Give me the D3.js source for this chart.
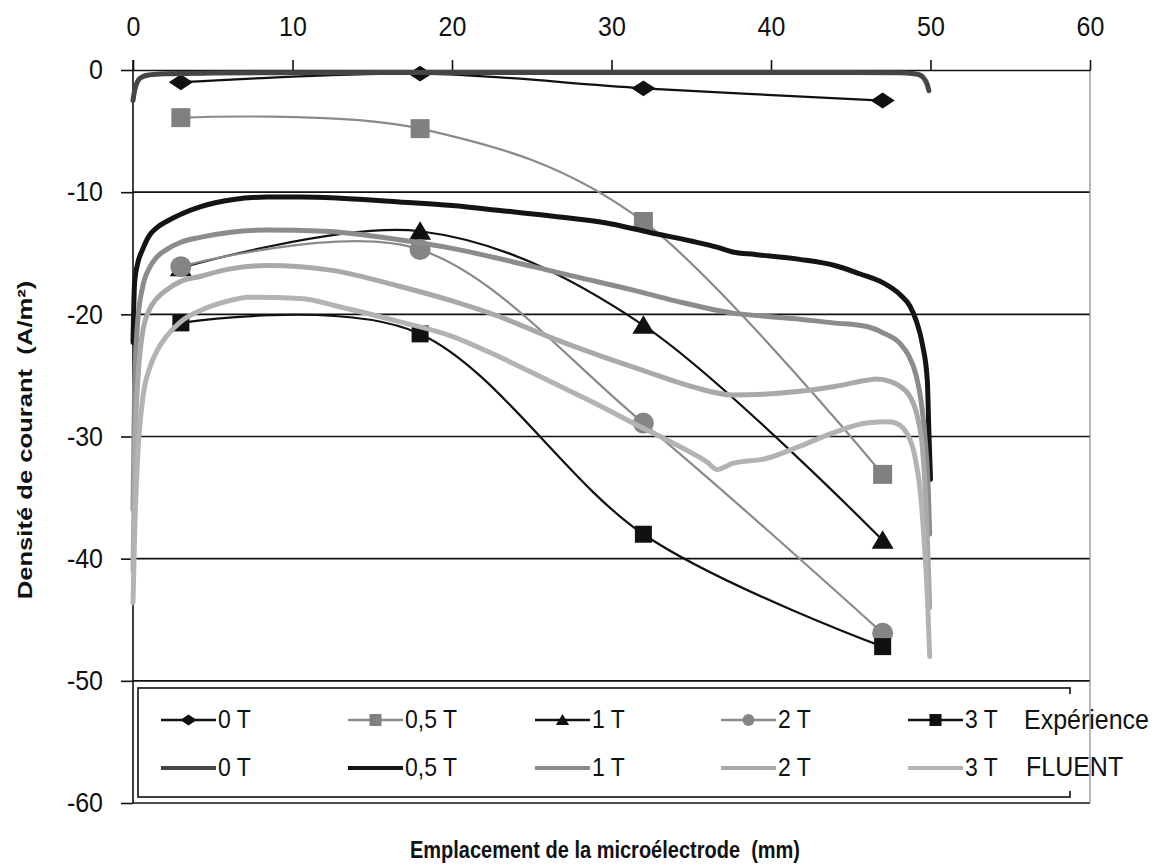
<!DOCTYPE html>
<html><head><meta charset="utf-8">
<script src="https://cdn.jsdelivr.net/npm/d3@7"></script>
<style>body{margin:0;background:#fff} text{font-family:"Liberation Sans",Arial,sans-serif}</style>
</head><body><svg id="c" width="1166" height="865"></svg>
<script>
// ---------- DATA ----------
const xTicks = [0, 10, 20, 30, 40, 50, 60];
const yTicks = [0, -10, -20, -30, -40, -50, -60];
const legendLabels = ["0 T", "0,5 T", "1 T", "2 T", "3 T"];

// Experimental points (position in mm)
const expX = [3, 18, 32, 47];
const exp0T = [-1.0, -0.3, -1.5, -2.5];
const exp05T = [-3.9, -4.8, -12.4, -33.1];
const exp1T = [-16.2, -13.2, -20.9, -38.5];
const exp2T = [-16.1, -14.7, -28.9, -46.1];
const exp3T = [-20.7, -21.6, -38.0, -47.2];

// FLUENT simulation curves
const fl0T_x = [0, 0.1, 0.2, 0.35, 0.6, 1, 2, 5, 10, 20, 30, 40, 45, 48, 49, 49.4, 49.65, 49.8, 49.9];
const fl0T_y = [-2.5, -1.7, -1.2, -0.8, -0.55, -0.4, -0.3, -0.25, -0.22, -0.2, -0.2, -0.2, -0.2, -0.22, -0.3, -0.45, -0.8, -1.2, -1.7];

const fl05T_x = [0, 0.1, 0.3, 0.6, 1, 1.5, 2.1, 3, 4.2, 6.3, 8.4, 10.5, 13, 16.7, 20, 23, 27.2, 30, 32.4, 35, 36.6, 37.6, 39, 41.8, 44, 45.6, 47, 48.1, 48.7, 49.1, 49.5, 49.8, 49.9, 50];
const fl05T_y = [-22.3, -17.4, -15.8, -14.7, -13.6, -12.9, -12.4, -11.8, -11.2, -10.6, -10.4, -10.4, -10.5, -10.8, -11.1, -11.5, -12.1, -12.6, -13.3, -14.0, -14.5, -14.9, -15.1, -15.5, -16.0, -16.7, -17.4, -18.4, -19.3, -20.5, -22.5, -25.4, -29.7, -33.5];

const fl1T_x = [0, 0.1, 0.3, 0.6, 1.07, 1.5, 2.1, 3, 4.2, 6, 8.4, 12, 16.7, 20, 25.1, 28, 31.3, 34, 37.6, 40, 41.8, 43.9, 46, 47, 48.1, 48.6, 49.1, 49.4, 49.65, 49.85, 49.95];
const fl1T_y = [-36, -26, -20.5, -17.8, -16.1, -15.3, -14.7, -14.1, -13.7, -13.3, -13.1, -13.2, -13.9, -14.6, -16.1, -17.0, -18.0, -18.9, -19.9, -20.2, -20.4, -20.7, -21.0, -21.5, -22.4, -23.3, -25.0, -27.0, -30, -34, -38];

const fl2T_x = [0, 0.1, 0.3, 0.6, 1.07, 1.5, 2.1, 3, 4.2, 6, 8.4, 10.5, 12.5, 16.7, 20, 23, 26, 29.3, 32, 35, 37.6, 40, 41.8, 44, 46, 46.6, 47.5, 48.1, 48.7, 49.2, 49.5, 49.7, 49.85, 49.95];
const fl2T_y = [-41, -32, -25.5, -21.5, -19.5, -18.7, -18.0, -17.3, -16.9, -16.3, -16.0, -16.1, -16.4, -17.7, -18.9, -20.2, -21.8, -23.4, -24.6, -25.9, -26.6, -26.5, -26.3, -25.9, -25.4, -25.3, -25.5, -25.9, -26.7, -28.5, -31, -35, -40, -44];

const fl3T_x = [0, 0.1, 0.3, 0.6, 1.07, 1.5, 2.1, 3, 4.2, 5.7, 7.3, 10.5, 13, 16.7, 20, 23, 26, 29.3, 31.5, 33.5, 35.1, 36, 36.6, 37.6, 39.7, 41.8, 43.9, 46, 47.4, 48.1, 48.5, 49, 49.4, 49.6, 49.8, 49.95];
const fl3T_y = [-43.6, -38, -31.5, -27, -24.3, -23, -21.8, -20.6, -19.7, -19.0, -18.6, -18.7, -19.4, -20.6, -21.8, -23.5, -25.4, -27.5, -29.0, -30.3, -31.4, -32.1, -32.7, -32.2, -31.8, -30.8, -29.7, -28.9, -28.8, -29.1, -29.7, -31.5, -35, -38.5, -43, -48];

// ---------- CHART ----------
const FONT = '"Liberation Sans", Arial, sans-serif';
const svg = d3.select("#c");
const x = d3.scaleLinear().domain([0, 60]).range([133, 1090]);
const y = d3.scaleLinear().domain([-60, 0]).range([803, 70]);

// vertical stretch helper for text (reference text is slightly tall)
function stretch(sel, k) {
  sel.attr("transform", function () {
    const yy = +(this.getAttribute("y") || 0);
    return `translate(0,${yy}) scale(1,${k}) translate(0,${-yy})`;
  });
}

// gridlines
svg.append("g").selectAll("line").data(yTicks.filter(d => d !== 0)).join("line")
  .attr("x1", x(0)).attr("x2", x(60)).attr("y1", d => y(d)).attr("y2", d => y(d))
  .attr("stroke", "#111").attr("stroke-width", 1.6);

// right border
svg.append("line").attr("x1", x(60)).attr("x2", x(60)).attr("y1", y(0)).attr("y2", y(-60))
  .attr("stroke", "#888").attr("stroke-width", 1.2);

// axes
const xAxis = svg.append("g").attr("transform", `translate(0,${y(0)})`)
  .call(d3.axisTop(x).tickValues(xTicks).tickSize(10).tickSizeOuter(0).tickPadding(24).tickFormat(d => String(d)));
const yAxis = svg.append("g").attr("transform", `translate(${x(0)},0)`)
  .call(d3.axisLeft(y).tickValues(yTicks).tickSize(12).tickSizeOuter(0).tickPadding(18).tickFormat(d => String(d)));
[xAxis, yAxis].forEach(a => {
  a.selectAll("path.domain").attr("stroke", "#111").attr("stroke-width", 1.6);
  a.selectAll(".tick line").attr("stroke", "#111").attr("stroke-width", 1.6);
  a.selectAll("text").attr("font-size", 25).attr("fill", "#111").style("font-family", FONT);
});
xAxis.selectAll("text").attr("dy", "0");
stretch(xAxis.selectAll("text"), 1.1);
stretch(yAxis.selectAll("text"), 1.1);
yAxis.selectAll("path.domain").remove();
svg.append("line").attr("x1", x(0)).attr("x2", x(0)).attr("y1", y(0) - 10).attr("y2", y(-60))
  .attr("stroke", "#111").attr("stroke-width", 1.6);

// marker helper
function marker(g, type, cx, cy, s, color) {
  if (type === "diamond") {
    g.append("path").attr("d", `M${cx - s * 0.55},${cy} L${cx},${cy - s * 0.36} L${cx + s * 0.55},${cy} L${cx},${cy + s * 0.36} Z`).attr("fill", color);
  } else if (type === "square") {
    g.append("rect").attr("x", cx - s / 2).attr("y", cy - s / 2).attr("width", s).attr("height", s).attr("fill", color);
  } else if (type === "triangle") {
    g.append("path").attr("d", `M${cx},${cy - s * 0.5} L${cx + s * 0.55},${cy + s * 0.42} L${cx - s * 0.55},${cy + s * 0.42} Z`).attr("fill", color);
  } else if (type === "circle") {
    g.append("circle").attr("cx", cx).attr("cy", cy).attr("r", s / 2).attr("fill", color);
  }
}

const expSeries = [
  { v: exp0T, color: "#111", mcolor: "#111", type: "diamond", size: 22 },
  { v: exp05T, color: "#8a8a8a", mcolor: "#808080", type: "square", size: 19 },
  { v: exp1T, color: "#111", mcolor: "#111", type: "triangle", size: 20 },
  { v: exp2T, color: "#8a8a8a", mcolor: "#858585", type: "circle", size: 21 },
  { v: exp3T, color: "#111", mcolor: "#111", type: "square", size: 17 }
];
const expLine = d3.line().x((d, i) => x(expX[i])).y(d => y(d)).curve(d3.curveCardinal.tension(0));
const gExp = svg.append("g");
expSeries.forEach(s => {
  gExp.append("path").attr("d", expLine(s.v)).attr("fill", "none").attr("stroke", s.color).attr("stroke-width", 2.2);
  s.v.forEach((v, i) => marker(gExp, s.type, x(expX[i]), y(v), s.size, s.mcolor));
});

const flSeries = [
  { xs: fl0T_x, ys: fl0T_y, color: "#454545" },
  { xs: fl05T_x, ys: fl05T_y, color: "#141414" },
  { xs: fl1T_x, ys: fl1T_y, color: "#8c8c8c" },
  { xs: fl2T_x, ys: fl2T_y, color: "#a9a9a9" },
  { xs: fl3T_x, ys: fl3T_y, color: "#b3b3b3" }
];
const flLine = d3.line().x(d => x(d[0])).y(d => y(d[1])).curve(d3.curveMonotoneX);
const gFl = svg.append("g");
flSeries.forEach(s => {
  const pts = s.xs.map((xv, i) => [xv, s.ys[i]]);
  gFl.append("path").attr("d", flLine(pts)).attr("fill", "none").attr("stroke", s.color)
    .attr("stroke-width", 5).attr("stroke-linecap", "round").attr("stroke-linejoin", "round");
});

// ---------- LEGEND ----------
const lg = svg.append("g");
lg.append("rect").attr("x", 138).attr("y", 688).attr("width", 932).attr("height", 109)
  .attr("fill", "#fff").attr("stroke", "#111").attr("stroke-width", 1.6);
lg.append("rect").attr("x", 1016).attr("y", 694).attr("width", 70).attr("height", 97).attr("fill", "#fff");
const starts = [161, 348, 535, 721, 908];
const lineLen = 55;
const row1 = 720, row2 = 768;
const flLegendColors = flSeries.map(s => s.color);
expSeries.forEach((s, i) => {
  const sx = starts[i];
  lg.append("line").attr("x1", sx).attr("x2", sx + lineLen).attr("y1", row1).attr("y2", row1)
    .attr("stroke", s.color).attr("stroke-width", 2.5);
  marker(lg, s.type, sx + lineLen / 2, row1, s.type === "diamond" ? 15 : 12, s.mcolor);
  stretch(lg.append("text").attr("x", sx + lineLen + 2).attr("y", row1 + 8).attr("font-size", 23)
    .attr("fill", "#111").text(legendLabels[i]), 1.1);
  lg.append("line").attr("x1", sx).attr("x2", sx + lineLen).attr("y1", row2).attr("y2", row2)
    .attr("stroke", flLegendColors[i]).attr("stroke-width", 4);
  stretch(lg.append("text").attr("x", sx + lineLen + 2).attr("y", row2 + 8).attr("font-size", 23)
    .attr("fill", "#111").text(legendLabels[i]), 1.1);
});
stretch(lg.append("text").attr("x", 1024).attr("y", row1 + 9).attr("font-size", 25).attr("fill", "#111").text("Expérience"), 1.1);
stretch(lg.append("text").attr("x", 1026).attr("y", row2 + 8).attr("font-size", 25).attr("fill", "#111").text("FLUENT"), 1.1);

// ---------- TITLES ----------
stretch(svg.append("text").attr("x", 605).attr("y", 858).attr("text-anchor", "middle")
  .attr("font-size", 20).attr("font-weight", "bold").attr("fill", "#111")
  .style("white-space", "pre").text("Emplacement de la microélectrode  (mm)"), 1.15);
svg.append("text").attr("transform", "translate(32,440) scale(1,1.22) rotate(-90)").attr("text-anchor", "middle")
  .attr("font-size", 21).attr("font-weight", "bold").attr("fill", "#111")
  .style("white-space", "pre").text("Densité de courant  (A/m²)");
</script></body></html>
